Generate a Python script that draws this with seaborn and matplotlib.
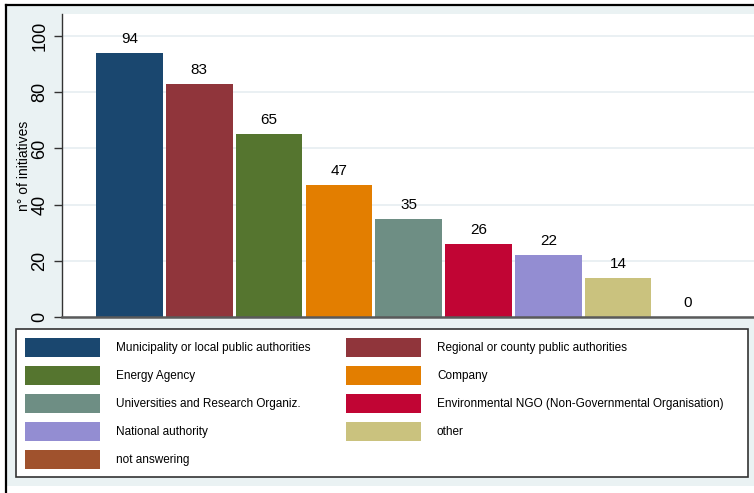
import matplotlib
matplotlib.use("Agg")
import matplotlib.pyplot as plt
from matplotlib.patches import Rectangle, Patch
from matplotlib.lines import Line2D
import seaborn as sns
import pandas as pd

# Responding organisations and number of initiatives
categories = [
    "Municipality or local public authorities",
    "Regional or county public authorities",
    "Energy Agency",
    "Company",
    "Universities and Research Organiz.",
    "Environmental NGO (Non-Governmental Organisation)",
    "National authority",
    "other",
    "not answering",
]
values = [94, 83, 65, 47, 35, 26, 22, 14, 0]
colors = ["#1a476f", "#90353b", "#55752f", "#e37e00", "#6e8e84",
          "#c10534", "#938dd2", "#cac27e", "#a0522d"]
y_ticks = [0, 20, 40, 60, 80, 100]
y_title = "n° of initiatives"

plt.rcParams["font.family"] = ["Liberation Sans", "DejaVu Sans"]

df = pd.DataFrame({"group": categories, "n": values})

W, H = 754, 493
fig = plt.figure(figsize=(W / 100, H / 100), dpi=100)
fig.patch.set_facecolor("white")

# graph region background and outer frame
fig.add_artist(Rectangle((6 / W, (H - 486) / H), 1 - 6 / W, (486 - 5) / H,
                         transform=fig.transFigure, facecolor="#eaf2f3",
                         edgecolor="none", zorder=0))
fig.add_artist(Line2D([6 / W, 1], [(H - 5) / H, (H - 5) / H],
                      transform=fig.transFigure, color="black", lw=1.6, zorder=1))
fig.add_artist(Line2D([6 / W, 6 / W], [0, (H - 5) / H],
                      transform=fig.transFigure, color="black", lw=1.6, zorder=1))

ax = fig.add_axes([62 / W, (H - 317) / H, (756 - 62) / W, (317 - 14) / H])
ax.set_facecolor("white")

sns.barplot(data=df, x="group", y="n", hue="group", palette=colors,
            order=categories, hue_order=categories, width=0.955,
            saturation=1, linewidth=0, legend=False, ax=ax)

for cont in ax.containers:
    ax.bar_label(cont, padding=5, fontsize=11, color="black")

ax.set_xlim(-0.967, 8.976)
ax.set_ylim(0, (317 - 14) / 2.81)
ax.set_yticks(y_ticks)
ax.set_yticklabels([str(t) for t in y_ticks], rotation=90, va="center",
                   fontsize=13)
ax.tick_params(axis="y", length=5.8, width=1, color="#333333", pad=4)
ax.set_xticks([])
ax.set_xlabel("")
ax.set_ylabel(y_title, fontsize=10, labelpad=0)
ax.grid(axis="y", color="#e8eff2", lw=1.3)
ax.set_axisbelow(True)
for side in ("top", "right"):
    ax.spines[side].set_visible(False)
ax.spines["left"].set_color("#333333")
ax.spines["left"].set_linewidth(1)
ax.spines["bottom"].set_color("#5a5a5a")
ax.spines["bottom"].set_linewidth(1.8)

# legend box
fig.add_artist(Rectangle((16 / W, (H - 477) / H), (748 - 16) / W, (477 - 329) / H,
                         transform=fig.transFigure, facecolor="white",
                         edgecolor="#333333", lw=1.2, zorder=2))
order = [0, 2, 4, 6, 8, 1, 3, 5, 7]
handles = [Patch(facecolor=colors[i], edgecolor="none") for i in order]
labels = [categories[i] for i in order]
leg = fig.legend(handles, labels, ncol=2, loc="upper left",
                 bbox_to_anchor=(16 / W, (H - 329) / H), frameon=False,
                 fontsize=8.5, handlelength=6.35, handleheight=2.1,
                 handletextpad=1.36, labelspacing=0.76, columnspacing=3.0,
                 borderpad=0.76, borderaxespad=0)
leg.set_zorder(3)

fig.savefig("out.png", dpi=100, facecolor=fig.get_facecolor())
